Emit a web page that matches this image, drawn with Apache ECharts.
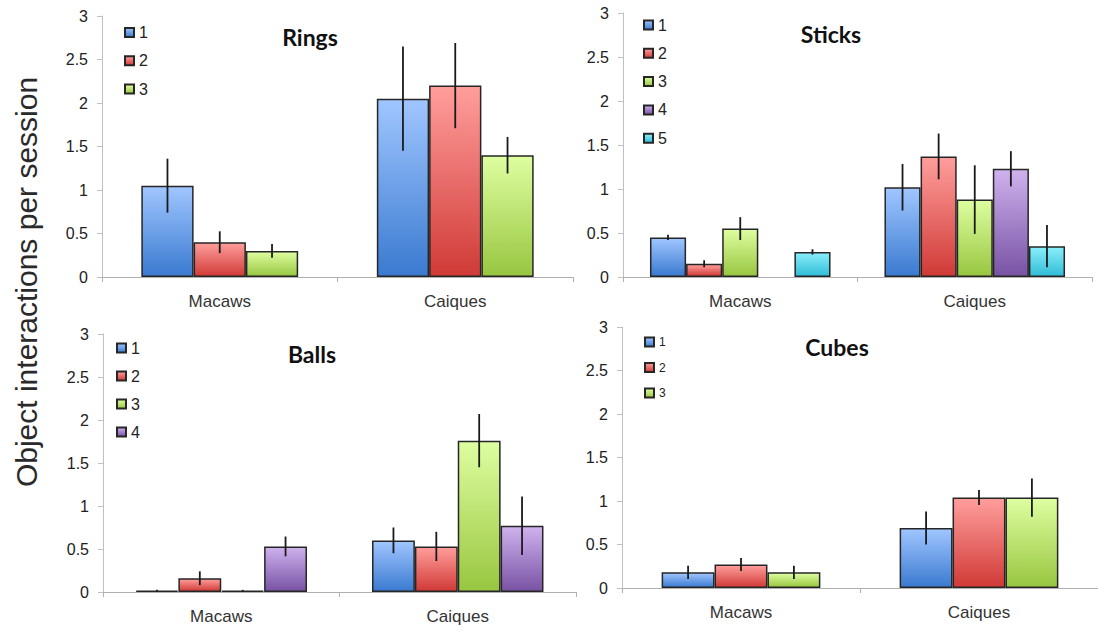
<!DOCTYPE html>
<html>
<head>
<meta charset="utf-8">
<script src="https://cdn.jsdelivr.net/npm/echarts@6/dist/echarts.min.js"></script>
<style>
html,body{margin:0;padding:0;background:#fff;}
#c{width:1098px;height:633px;}
</style>
</head>
<body>
<div id="c"></div>
<script>
// ---------- data ----------
const categories = ['Macaws', 'Caiques'];
const yTicks = [0, 0.5, 1, 1.5, 2, 2.5, 3];
const panelTitles = ['Rings', 'Sticks', 'Balls', 'Cubes'];
const yAxisTitle = 'Object interactions per session';

// each inner array: one legend item (1..n), values for [Macaws, Caiques]
const ringsMeans  = [[1.05, 2.05], [0.40, 2.20], [0.30, 1.40]];
const ringsErrors = [[0.31, 0.60], [0.125, 0.49], [0.08, 0.21]];

const sticksMeans  = [[0.45, 1.02], [0.15, 1.37], [0.55, 0.88], [null, 1.23], [0.285, 0.35]];
const sticksErrors = [[0.03, 0.265], [0.04, 0.26], [0.13, 0.39], [null, 0.20], [0.03, 0.24]];

const ballsMeans  = [[0.015, 0.60], [0.16, 0.53], [0.015, 1.76], [0.53, 0.77]];
const ballsErrors = [[0.01, 0.15], [0.08, 0.17], [0.01, 0.31], [0.115, 0.34]];

const cubesMeans  = [[0.18, 0.69], [0.27, 1.04], [0.18, 1.04]];
const cubesErrors = [[0.077, 0.19], [0.075, 0.086], [0.077, 0.22]];

const legendNames = ['1', '2', '3', '4', '5'];

// ---------- styling ----------
const gradStops = [
  ['#a0c6ff', '#3a7ad0'],
  ['#ff9e9c', '#d03a36'],
  ['#defea0', '#98c640'],
  ['#cfb2ee', '#7852a4'],
  ['#8aeffb', '#30bcd6']
];
function grad(i) {
  return {type: 'linear', x: 0, y: 0, x2: 0, y2: 1,
    colorStops: [{offset: 0, color: gradStops[i][0]}, {offset: 1, color: gradStops[i][1]}]};
}

const panels = [
  {means: ringsMeans,  errs: ringsErrors,  grid: {left: 102, top: 16,  width: 471, height: 261}, gap: 0.334,
   title: [310, 37], legend: {left: 124, top: 24.5, gap: 12.3, fs: 16, lh: 16}},
  {means: sticksMeans, errs: sticksErrors, grid: {left: 623, top: 13,  width: 469, height: 264}, gap: 0.23,
   title: [831, 34], legend: {left: 643, top: 17, gap: 12.3, fs: 16, lh: 16}},
  {means: ballsMeans,  errs: ballsErrors,  grid: {left: 103, top: 334, width: 473, height: 258}, gap: 0.275,
   title: [312, 354], legend: {left: 116, top: 340, gap: 12, fs: 16, lh: 16}},
  {means: cubesMeans,  errs: cubesErrors,  grid: {left: 622, top: 327, width: 481, height: 261}, gap: 0.333,
   title: [837, 347], legend: {left: 644, top: 335, gap: 11.5, fs: 12, lh: 14}}
];

const grids = [], xAxes = [], yAxes = [], series = [], legends = [], graphics = [];

panels.forEach((p, pi) => {
  grids.push(Object.assign({containLabel: false}, p.grid));
  xAxes.push({
    type: 'category', gridIndex: pi, data: categories,
    axisLine: {lineStyle: {color: '#b0b0b0', width: 1}},
    axisTick: {show: true, length: 5, lineStyle: {color: '#b0b0b0'}},
    axisLabel: {fontFamily: 'Liberation Sans', fontSize: 17, color: '#333', margin: 16}
  });
  yAxes.push({
    type: 'value', gridIndex: pi, min: yTicks[0], max: yTicks[yTicks.length - 1], interval: yTicks[1] - yTicks[0],
    axisLine: {show: true, lineStyle: {color: '#c0c0c0', width: 1}},
    axisTick: {show: true, length: 5, lineStyle: {color: '#c0c0c0'}},
    splitLine: {show: false},
    axisLabel: {fontFamily: 'Liberation Sans', fontSize: 16, color: '#222', margin: 14}
  });
  const n = p.means.length;
  const gapPct = Math.round(p.gap * 1000) / 10 + '%';
  p.means.forEach((vals, k) => {
    series.push({
      type: 'bar', name: legendNames[k], xAxisIndex: pi, yAxisIndex: pi,
      data: vals, barGap: '0%', barCategoryGap: gapPct,
      itemStyle: {color: grad(k), borderColor: '#262626', borderWidth: 1.5},
      emphasis: {disabled: true}, animation: false
    });
  });
  const errData = [];
  p.means.forEach((vals, k) => {
    vals.forEach((v, ci) => {
      if (v !== null && p.errs[k][ci] !== null) errData.push([ci, k, v, p.errs[k][ci]]);
    });
  });
  series.push({
    type: 'custom', xAxisIndex: pi, yAxisIndex: pi, z: 5, animation: false, silent: true,
    data: errData,
    encode: {x: 0, y: 2},
    renderItem: (function (gap, n) {
      return function (params, api) {
        const cat = api.value(0), k = api.value(1), v = api.value(2), e = api.value(3);
        const W = api.size([1, 0])[0];
        const total = W * (1 - gap);
        const bw = total / n;
        const c = api.coord([cat, v]);
        const x = c[0] - total / 2 + (k + 0.5) * bw;
        const yTop = api.coord([cat, v + e])[1];
        const yBot = api.coord([cat, Math.max(v - e, 0)])[1];
        return {type: 'line', shape: {x1: x, y1: yTop, x2: x, y2: yBot},
          style: {stroke: '#1a1a1a', lineWidth: 1.8}};
      };
    })(p.gap, n)
  });
  legends.push({
    orient: 'vertical', left: p.legend.left, top: p.legend.top, padding: 0,
    itemWidth: 9, itemHeight: 9, itemGap: p.legend.gap, itemTextGap: 5,
    icon: 'rect', selectedMode: false,
    data: legendNames.slice(0, n),
    textStyle: {fontFamily: 'Liberation Sans', fontSize: p.legend.fs, lineHeight: p.legend.lh, color: '#222'}
  });
  graphics.push({
    type: 'text', x: p.title[0], y: p.title[1], silent: true,
    style: {text: panelTitles[pi], font: 'bold 23px Lato', fill: '#111', textAlign: 'center', textVerticalAlign: 'middle'}
  });
});

graphics.push({
  type: 'text', x: 26, y: 282, rotation: Math.PI / 2, silent: true,
  style: {text: yAxisTitle, font: '30px "Liberation Sans"', fill: '#2a2a2a', textAlign: 'center', textVerticalAlign: 'middle'}
});

const chart = echarts.init(document.getElementById('c'), null, {renderer: 'svg'});
chart.setOption({
  animation: false,
  backgroundColor: '#fff',
  grid: grids, xAxis: xAxes, yAxis: yAxes,
  legend: legends, series: series, graphic: graphics
});
</script>
</body>
</html>
